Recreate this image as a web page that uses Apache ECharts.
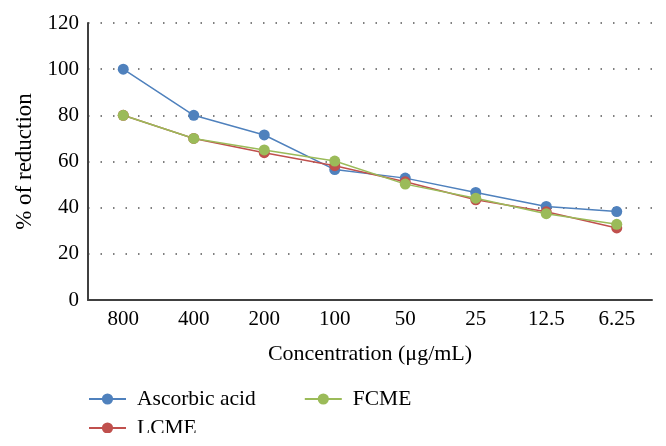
<!DOCTYPE html>
<html>
<head>
<meta charset="utf-8">
<script src="https://cdn.jsdelivr.net/npm/echarts@6/dist/echarts.min.js"></script>
<style>html,body{margin:0;padding:0;background:#fff}#c{width:666px;height:446px}</style>
</head>
<body>
<div id="c"></div>
<script>
const categories = ['800', '400', '200', '100', '50', '25', '12.5', '6.25'];
const ascorbicAcid = [100, 80, 71.5, 56.5, 52.8, 46.6, 40.5, 38.3];
const lcme = [80, 70, 63.8, 58.2, 51.2, 43.4, 38.2, 31.2];
const fcme = [80, 70, 65, 60.2, 50.2, 44.1, 37.4, 32.8];
const seriesNames = ['Ascorbic acid', 'LCME', 'FCME'];
const colors = ['#4F81BD', '#C0504D', '#9BBB59'];
const seriesValues = [ascorbicAcid, lcme, fcme];

const font = '"Liberation Serif", "DejaVu Serif", serif';
const chart = echarts.init(document.getElementById('c'), null, {renderer: 'canvas'});
chart.setOption({
  animation: false,
  textStyle: {fontFamily: font},
  grid: {left: 88, right: 14, top: 23, bottom: 146},
  xAxis: {
    type: 'category',
    data: categories,
    boundaryGap: true,
    axisLine: {lineStyle: {color: '#404040', width: 2}},
    axisTick: {show: false},
    axisLabel: {color: '#000', fontSize: 21, fontFamily: font, margin: 9},
    name: 'Concentration (\u03bcg/mL)',
    nameLocation: 'middle',
    nameGap: 43,
    nameTextStyle: {color: '#000', fontSize: 22, fontFamily: font}
  },
  yAxis: {
    type: 'value',
    min: 0, max: 120, interval: 20,
    axisLine: {show: true, lineStyle: {color: '#404040', width: 2}},
    axisTick: {show: false},
    axisLabel: {color: '#000', fontSize: 21, fontFamily: font, margin: 9},
    splitLine: {show: true, lineStyle: {color: '#555', width: 1.5, type: [1.5, 11]}},
    name: '% of reduction',
    nameLocation: 'middle',
    nameGap: 52,
    nameTextStyle: {color: '#000', fontSize: 23, fontFamily: font}
  },
  legend: [
    {
      data: ['Ascorbic acid', 'FCME'],
      left: 88, top: 388, padding: 0,
      itemWidth: 37, itemHeight: 14, itemGap: 48,
      textStyle: {color: '#000', fontSize: 21.5, fontFamily: font, padding: [0, 0, 0, 6]}
    },
    {
      data: ['LCME'],
      left: 88, top: 417, padding: 0,
      itemWidth: 37, itemHeight: 14,
      textStyle: {color: '#000', fontSize: 21.5, fontFamily: font, padding: [0, 0, 0, 6]}
    }
  ],
  series: seriesNames.map((n, i) => ({
    name: n,
    type: 'line',
    data: seriesValues[i],
    symbol: 'circle',
    symbolSize: 11,
    color: colors[i],
    lineStyle: {width: 1.5, color: colors[i]},
    itemStyle: {color: colors[i]}
  })),
  graphic: [{
    type: 'rect', z: 100,
    shape: {x: 0, y: 433, width: 666, height: 13},
    style: {fill: '#fff'}
  }]
});
</script>
</body>
</html>
